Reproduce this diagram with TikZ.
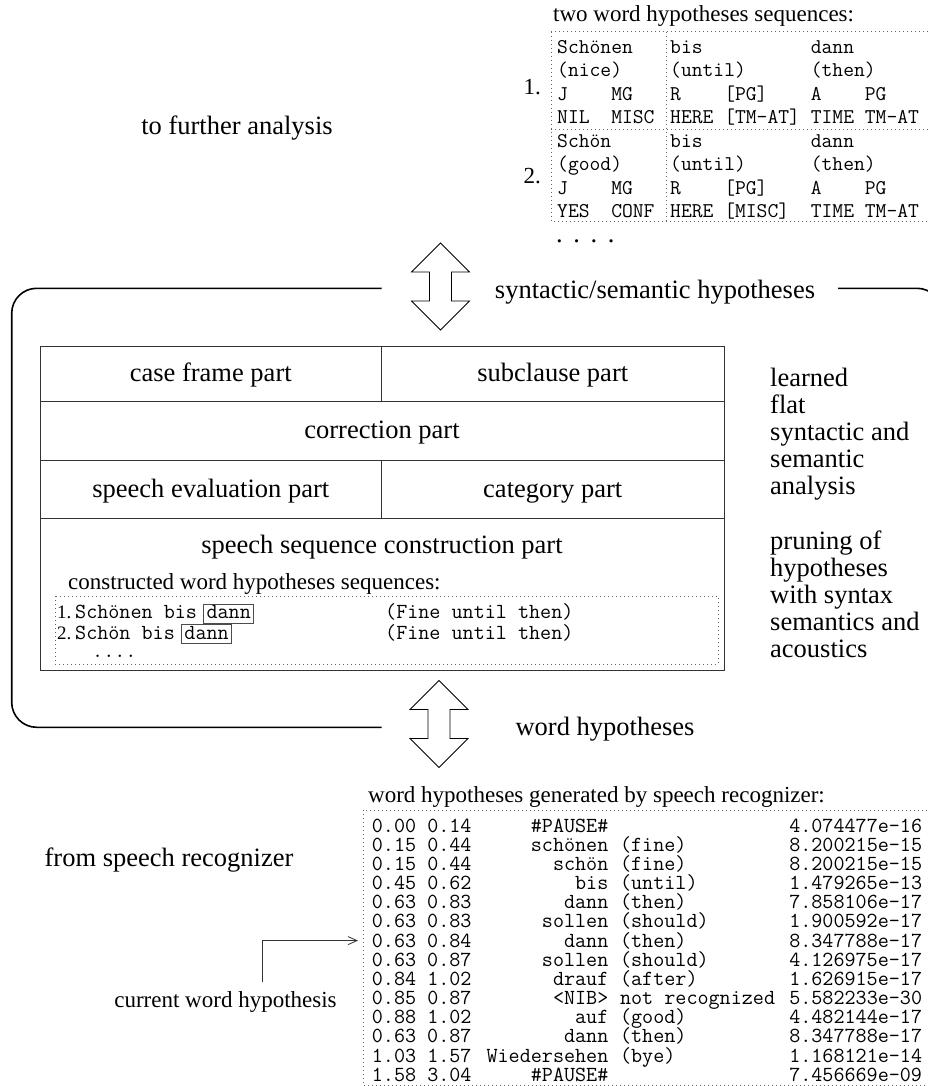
\documentclass[tikz,border=0pt]{standalone}
\usepackage{fontspec}
\setmainfont{Liberation Serif}
\usetikzlibrary{arrows.meta, positioning}

\newcommand\rmbig{\fontsize{26.5}{30}\selectfont}
\newcommand\rmsmall{\fontsize{23}{26}\selectfont}
\newcommand\ttsize{\ttfamily\fontsize{21.5}{22}\selectfont}
\newcommand\ttnarrow{\ttfamily\fontsize{21}{22}\selectfont}
\newcommand\cw{11.28}

\begin{document}
\begin{tikzpicture}[
    x=1pt, y=-1pt,
    bigtext/.style={font=\rmbig, inner sep=0pt, text height=16pt, text depth=0pt},
    smalltext/.style={font=\rmsmall, inner sep=0pt, text height=14pt, text depth=0pt},
    numtext/.style={font=\fontsize{19}{21}\selectfont, inner sep=0pt, text height=13pt, text depth=0pt},
    ttcell/.style={font=\ttsize, inner sep=0pt, text height=13pt, text depth=0pt},
    seqcell/.style={ttcell, font=\ttnarrow},
    part/.style={rectangle, draw=black!80, line width=0.8pt, outer sep=0pt, inner sep=0pt, anchor=north west, font=\rmbig, text height=16pt, text depth=0pt},
    dannbox/.style={ttcell, draw=black!70, line width=0.8pt, inner xsep=3pt, inner ysep=1.5pt, text depth=3pt},
    dotline/.style={black!60, line width=1pt, dash pattern=on 1pt off 3pt},
    loopframe/.style={line width=1.6pt, rounded corners=25pt},
    dblarrow/.style={line width=0.8pt},
    pointer/.style={black!80, line width=0.8pt, -{Straight Barb[length=9pt, width=8pt]}},
]
\useasboundingbox (0,0) rectangle (927,1086);

% --- Output side: two word hypotheses sequences ---
\node[bigtext] (further) at (237,127) {to further analysis};
\node[smalltext, anchor=west] (twohead) at (553,15) {two word hypotheses sequences:};
\draw[dotline] (551,31.7) rectangle (960,221);
\draw[dotline] (551,130) -- (960,130);
\draw[dotline] (666,31.7) -- (666,221);
\foreach \lcell/\rcell [count=\i] in {
    Schönen/bis~~~~~~~~~~dann,
    (nice)/(until)~~~~~~(then),
    J~~~~MG/R~~~~[PG]~~~~A~~~~PG,
    NIL~~MISC/HERE~[TM-AT]~TIME~TM-AT,
    Schön/bis~~~~~~~~~~dann,
    (good)/(until)~~~~~~(then),
    J~~~~MG/R~~~~[PG]~~~~A~~~~PG,
    YES~~CONF/HERE~[MISC]~~TIME~TM-AT} {
  \node[seqcell, anchor=west] (sl\i) at (557, {47+23.5*(\i-1)}) {\lcell};
  \node[seqcell, anchor=west] (sr\i) at (670, {47+23.5*(\i-1)}) {\rcell};
}
\node[smalltext, anchor=east] (seqone) at (541,88) {1.};
\node[smalltext, anchor=east] (seqtwo) at (541,176) {2.};
\node[bigtext, anchor=west] (seqdots) at (556,234) {.\hspace{0.4em}.\hspace{0.4em}.\hspace{0.4em}.};

% --- Double arrows ---
\foreach \cx/\cy in {440.5/286.5, 439/724}
  \draw[dblarrow, shift={(\cx,\cy)}] (0,-43.5) -- (29,-14.5) -- (11,-14.5) -- (11,14.5) -- (29,14.5)
    -- (0,43.5) -- (-29,14.5) -- (-11,14.5) -- (-11,-14.5) -- (-29,-14.5) -- cycle;

% --- Rounded frame ---
\draw[loopframe] (381.7,288.3) -- (11.7,288.3) -- (11.7,727.3) -- (381.7,727.3);
\draw[loopframe] (838,288.3) -- (942,288.3) -- (942,727.3);
\node[bigtext] (synsem) at (655,290) {syntactic/semantic hypotheses};
\node[bigtext] (wordhyp) at (605,727) {word hypotheses};

% --- Analysis parts ---
\node[part, minimum width=341.5pt, minimum height=55pt] (caseframe) at (40,346) {case frame part};
\node[part, minimum width=342.5pt, minimum height=55pt] (subclause) at (caseframe.north east) {subclause part};
\node[part, minimum width=684pt, minimum height=59pt] (correction) at (caseframe.south west) {correction part};
\node[part, minimum width=341.5pt, minimum height=58pt] (speecheval) at (correction.south west) {speech evaluation part};
\node[part, minimum width=342.5pt, minimum height=58pt] (category) at (speecheval.north east) {category part};
\node[part, minimum width=684pt, minimum height=152pt] (construction) at (speecheval.south west) {};
\node[bigtext, below=19pt of construction.north] (contitle) {speech sequence construction part};

% --- Constructed sequences ---
\node[smalltext, anchor=west] (conhead) at (68,582) {constructed word hypotheses sequences:};
\draw[dotline] (55,596) rectangle (718,664);
\foreach \w/\y [count=\i] in {Schönen bis/612, Schön bis/632.5} {
  \node[numtext, anchor=west] (cn\i) at (57,\y) {\i.};
  \node[ttcell, anchor=west] (cw\i) at (75,\y) {\w};
  \node[dannbox, anchor=base west] (cd\i) at ([xshift=6pt]cw\i.base east) {dann};
  \node[ttcell, anchor=west] (cg\i) at (385,\y) {(Fine until then)};
}
\node[ttcell, anchor=west] (condots) at (92,650.5) {....};

% --- Right annotations ---
\foreach \t [count=\i] in {learned, flat, syntactic and, semantic, analysis}
  \node[bigtext, anchor=west] (learn\i) at (770, {378+27*(\i-1)}) {\t};
\foreach \t [count=\i] in {pruning of, hypotheses, with syntax, semantics and, acoustics}
  \node[bigtext, anchor=west] (prune\i) at (770, {541+27*(\i-1)}) {\t};

% --- Input side: recognizer output ---
\node[bigtext] (fromsr) at (169,858) {from speech recognizer};
\node[smalltext, anchor=west] (rechead) at (368,795) {word hypotheses generated by speech recognizer:};
\draw[dotline] (363,810) rectangle (960,1085);
\foreach \tm/\w/\g/\pr [count=\i] in {
    0.00 0.14/\#PAUSE\#//4.074477e-16,
    0.15 0.44/schönen/(fine)/8.200215e-15,
    0.15 0.44/schön/(fine)/8.200215e-15,
    0.45 0.62/bis/(until)/1.479265e-13,
    0.63 0.83/dann/(then)/7.858106e-17,
    0.63 0.83/sollen/(should)/1.900592e-17,
    0.63 0.84/dann/(then)/8.347788e-17,
    0.63 0.87/sollen/(should)/4.126975e-17,
    0.84 1.02/drauf/(after)/1.626915e-17,
    0.85 0.87/<NIB>/not recognized/5.582233e-30,
    0.88 1.02/auf/(good)/4.482144e-17,
    0.63 0.87/dann/(then)/8.347788e-17,
    1.03 1.57/Wiedersehen/(bye)/1.168121e-14,
    1.58 3.04/\#PAUSE\#//7.456669e-09} {
  \node[ttcell, anchor=west] (rt\i) at (371.7, {825.7+19.15*(\i-1)}) {\tm};
  \node[ttcell, anchor=east] (rw\i) at ({371.7+21*\cw}, {825.7+19.15*(\i-1)}) {\w};
  \node[ttcell, anchor=west] (rg\i) at ({371.7+22*\cw}, {825.7+19.15*(\i-1)}) {\g};
  \node[ttcell, anchor=west] (rp\i) at ({371.7+37*\cw}, {825.7+19.15*(\i-1)}) {\pr};
}

% --- Current hypothesis pointer ---
\node[smalltext] (cur) at (225.5,1000) {current word hypothesis};
\draw[pointer] ([shift={(37pt,11pt)}]cur.north) |- ([xshift=-13.7pt]rt7.west);

\end{tikzpicture}
\end{document}
